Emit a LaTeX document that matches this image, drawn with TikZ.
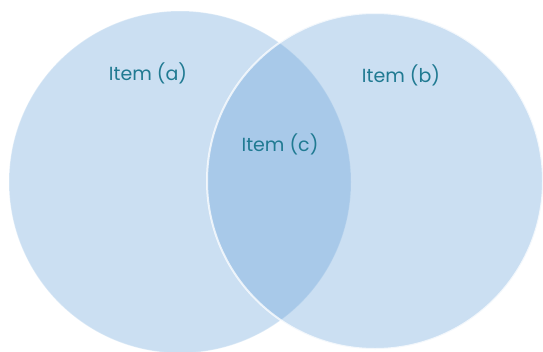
\documentclass[tikz,border=0pt]{standalone}
\usepackage{fontspec}
\setmainfont{Poppins}
\definecolor{setblue}{RGB}{96,157,215}
\definecolor{labelteal}{RGB}{32,122,146}
\begin{document}
\begin{tikzpicture}[x=1pt,y=-1pt,
  setdisc/.style={circle, inner sep=0pt, fill=setblue, fill opacity=0.33},
  itemlabel/.style={text=labelteal, font=\fontsize{19}{22}\selectfont}]
  \useasboundingbox (0,0) rectangle (543,351);
  % the two overlapping sets
  \node[setdisc, minimum size=342pt, draw=white, draw opacity=0.3, line width=1pt] (setA) at (180,182) {};
  \node[setdisc, minimum size=336pt, draw=white, draw opacity=0.75, line width=2pt] (setB) at (375,181) {};
  % labels
  \node[itemlabel] (labA) at (148,73) {Item (a)};
  \node[itemlabel] (labB) at (401,75) {Item (b)};
  \node[itemlabel] (labC) at (280,144) {Item (c)};
\end{tikzpicture}
\end{document}
